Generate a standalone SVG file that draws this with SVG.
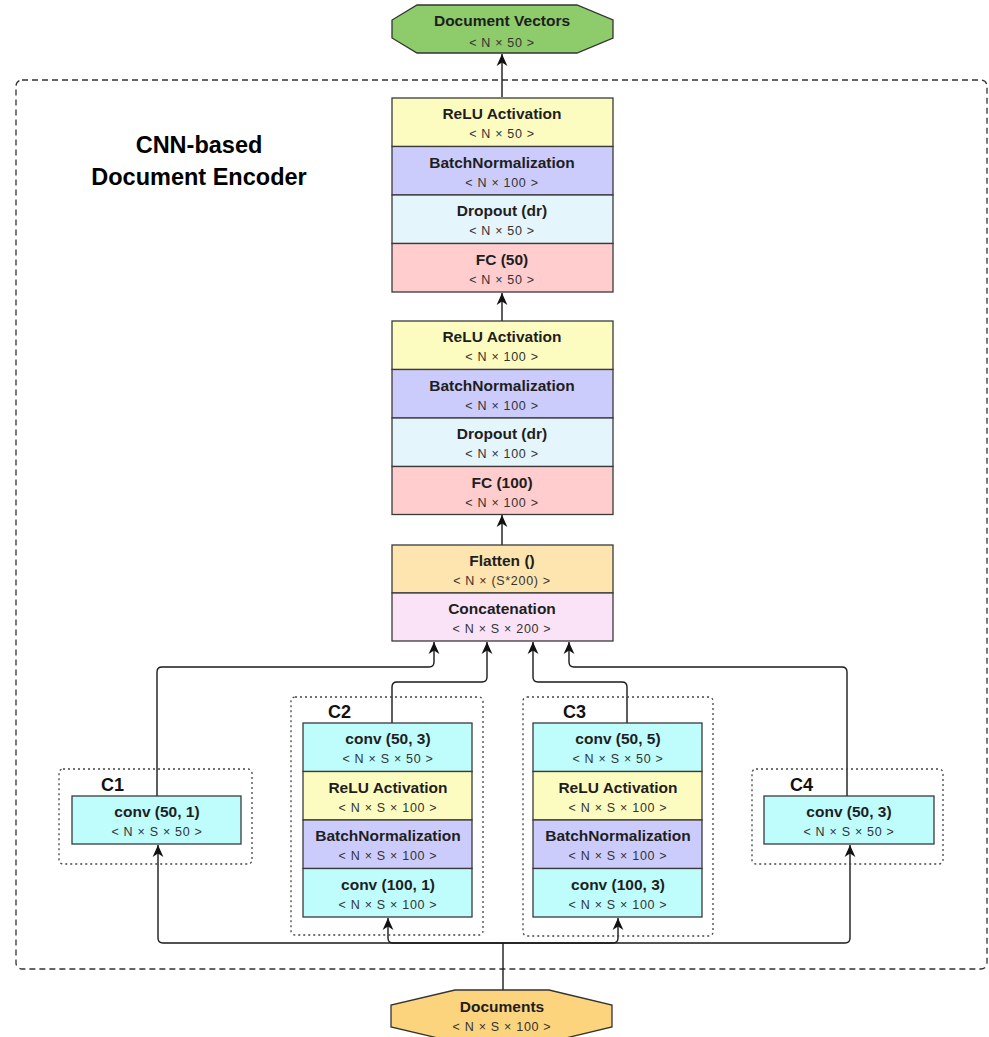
<svg xmlns="http://www.w3.org/2000/svg" width="989" height="1037" viewBox="0 0 989 1037">
<style>
.b{stroke:#3a3a3a;stroke-width:1.3}
.t{font-family:"Liberation Sans",Arial,sans-serif;font-weight:bold;font-size:15.5px;fill:#1e1e1e;text-anchor:middle}
.s{font-family:"Liberation Sans",Arial,sans-serif;font-size:12.5px;letter-spacing:0.7px;fill:#333;text-anchor:middle}
.g{font-family:"Liberation Sans",Arial,sans-serif;font-weight:bold;font-size:18px;fill:#111}
.dot{fill:none;stroke:#444;stroke-width:1.3;stroke-dasharray:2,3}
.c{fill:none;stroke:#1a1a1a;stroke-width:1.4}
.y{fill:#FDFCC0}.p{fill:#CCCCFC}.lb{fill:#E4F5FB}.r{fill:#FFCDCD}.cy{fill:#BFFCFC}.o{fill:#FEE4AE}.pk{fill:#FBE3F7}
</style>
<defs>
<marker id="ah" viewBox="0 0 10 10" refX="10" refY="5" markerWidth="12" markerHeight="12" markerUnits="userSpaceOnUse" orient="auto">
<path d="M0,0.5 L10,5 L0,9.5 L3,5 z" fill="#111"/>
</marker>
</defs>

<rect x="16" y="80" width="971" height="889" rx="6" fill="none" stroke="#333" stroke-width="1.3" stroke-dasharray="6,4"/>
<g id="title">
<text x="199" y="153" font-family="Liberation Sans,Arial,sans-serif" font-weight="bold" font-size="23.5" text-anchor="middle" fill="#000">CNN-based</text>
<text x="199" y="185" font-family="Liberation Sans,Arial,sans-serif" font-weight="bold" font-size="23.5" text-anchor="middle" fill="#000">Document Encoder</text>
</g>

<g id="connectors">
<path class="c" d="M502,97 V54" marker-end="url(#ah)"/>
<path class="c" d="M502,321 V293" marker-end="url(#ah)"/>
<path class="c" d="M502,545 V515" marker-end="url(#ah)"/>
<path class="c" d="M157,796 V672 Q157,667 162,667 H429 Q434,667 434,662 V642" marker-end="url(#ah)"/>
<path class="c" d="M392,723 V687 Q392,682 397,682 H482 Q487,682 487,677 V642" marker-end="url(#ah)"/>
<path class="c" d="M627,723 V687 Q627,682 622,682 H538 Q533,682 533,677 V642" marker-end="url(#ah)"/>
<path class="c" d="M847,796 V672 Q847,667 842,667 H574 Q569,667 569,662 V642" marker-end="url(#ah)"/>
<path class="c" d="M503,990 V943"/>
<path class="c" d="M503,943 H163 Q158,943 158,938 V845" marker-end="url(#ah)"/>
<path class="c" d="M503,943 H845 Q850,943 850,938 V845" marker-end="url(#ah)"/>
<path class="c" d="M503,943 H393 Q388,943 388,938 V918" marker-end="url(#ah)"/>
<path class="c" d="M503,943 H613 Q618,943 618,938 V918" marker-end="url(#ah)"/>
</g>

<g id="doc-vectors">
<polygon points="417,5 577,5 613,20 613,38 577,53 417,53 392,38 392,20" fill="#8DCB6B" stroke="#333" stroke-width="1.3"/>
<text class="t" x="502" y="26">Document Vectors</text>
<text class="s" x="502" y="47">&lt; N × 50 &gt;</text>
</g>

<g id="stack1">
<rect class="b y" x="392" y="98" width="221" height="48.5"/>
<rect class="b p" x="392" y="146.5" width="221" height="48.5"/>
<rect class="b lb" x="392" y="195" width="221" height="48.5"/>
<rect class="b r" x="392" y="243.5" width="221" height="48.5"/>
<text class="t" x="502" y="119">ReLU Activation</text><text class="s" x="502" y="138">&lt; N × 50 &gt;</text>
<text class="t" x="502" y="167.5">BatchNormalization</text><text class="s" x="502" y="186.5">&lt; N × 100 &gt;</text>
<text class="t" x="502" y="216">Dropout (dr)</text><text class="s" x="502" y="235">&lt; N × 50 &gt;</text>
<text class="t" x="502" y="264.5">FC (50)</text><text class="s" x="502" y="283.5">&lt; N × 50 &gt;</text>
</g>

<g id="stack2">
<rect class="b y" x="392" y="321" width="221" height="48.5"/>
<rect class="b p" x="392" y="369.5" width="221" height="48.5"/>
<rect class="b lb" x="392" y="418" width="221" height="48.5"/>
<rect class="b r" x="392" y="466.5" width="221" height="48"/>
<text class="t" x="502" y="342">ReLU Activation</text><text class="s" x="502" y="361">&lt; N × 100 &gt;</text>
<text class="t" x="502" y="390.5">BatchNormalization</text><text class="s" x="502" y="409.5">&lt; N × 100 &gt;</text>
<text class="t" x="502" y="439">Dropout (dr)</text><text class="s" x="502" y="458">&lt; N × 100 &gt;</text>
<text class="t" x="502" y="487.5">FC (100)</text><text class="s" x="502" y="506.5">&lt; N × 100 &gt;</text>
</g>

<g id="flatten-concat">
<rect class="b o" x="392" y="545" width="221" height="48"/>
<rect class="b pk" x="392" y="593" width="221" height="48"/>
<text class="t" x="502" y="566">Flatten ()</text><text class="s" x="502" y="585">&lt; N × (S*200) &gt;</text>
<text class="t" x="502" y="614">Concatenation</text><text class="s" x="502" y="633">&lt; N × S × 200 &gt;</text>
</g>

<g id="C1">
<rect class="dot" x="59" y="769" width="193" height="95" rx="4"/>
<text class="g" x="101" y="791">C1</text>
<rect class="b cy" x="72" y="796" width="169" height="48"/>
<text class="t" x="157" y="817">conv (50, 1)</text><text class="s" x="157" y="836">&lt; N × S × 50 &gt;</text>
</g>

<g id="C2">
<rect class="dot" x="291" y="697" width="192" height="238" rx="4"/>
<text class="g" x="328" y="718">C2</text>
<rect class="b cy" x="303" y="723" width="169" height="48.5"/>
<rect class="b y" x="303" y="771.5" width="169" height="48.5"/>
<rect class="b p" x="303" y="820" width="169" height="48.5"/>
<rect class="b cy" x="303" y="868.5" width="169" height="48.5"/>
<text class="t" x="388" y="744">conv (50, 3)</text><text class="s" x="388" y="763">&lt; N × S × 50 &gt;</text>
<text class="t" x="388" y="792.5">ReLU Activation</text><text class="s" x="388" y="811.5">&lt; N × S × 100 &gt;</text>
<text class="t" x="388" y="841">BatchNormalization</text><text class="s" x="388" y="860">&lt; N × S × 100 &gt;</text>
<text class="t" x="388" y="889.5">conv (100, 1)</text><text class="s" x="388" y="908.5">&lt; N × S × 100 &gt;</text>
</g>

<g id="C3">
<rect class="dot" x="523" y="697" width="190" height="239" rx="4"/>
<text class="g" x="563" y="718">C3</text>
<rect class="b cy" x="533" y="723" width="169" height="48.5"/>
<rect class="b y" x="533" y="771.5" width="169" height="48.5"/>
<rect class="b p" x="533" y="820" width="169" height="48.5"/>
<rect class="b cy" x="533" y="868.5" width="169" height="48.5"/>
<text class="t" x="618" y="744">conv (50, 5)</text><text class="s" x="618" y="763">&lt; N × S × 50 &gt;</text>
<text class="t" x="618" y="792.5">ReLU Activation</text><text class="s" x="618" y="811.5">&lt; N × S × 100 &gt;</text>
<text class="t" x="618" y="841">BatchNormalization</text><text class="s" x="618" y="860">&lt; N × S × 100 &gt;</text>
<text class="t" x="618" y="889.5">conv (100, 3)</text><text class="s" x="618" y="908.5">&lt; N × S × 100 &gt;</text>
</g>

<g id="C4">
<rect class="dot" x="752" y="769" width="191" height="95" rx="4"/>
<text class="g" x="790" y="791">C4</text>
<rect class="b cy" x="764" y="796" width="170" height="48"/>
<text class="t" x="849" y="817">conv (50, 3)</text><text class="s" x="849" y="836">&lt; N × S × 50 &gt;</text>
</g>

<g id="documents">
<polygon points="455,990 549,990 612,1005 612,1027 549,1042 455,1042 391,1027 391,1005" fill="#FDD47E" stroke="#333" stroke-width="1.3"/>
<text class="t" x="502" y="1012">Documents</text>
<text class="s" x="502" y="1031">&lt; N × S × 100 &gt;</text>
</g>
</svg>
